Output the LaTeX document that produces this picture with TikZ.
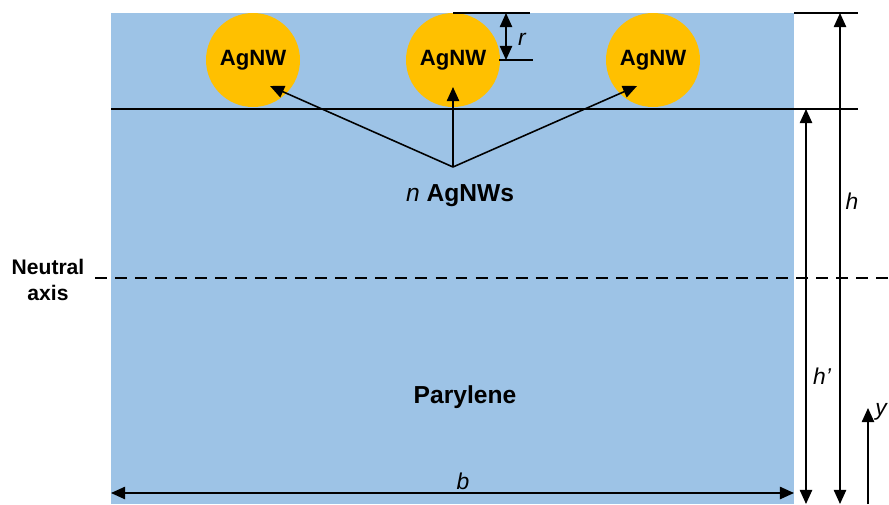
\documentclass[tikz,border=0pt]{standalone}
\usepackage{fontspec}
\setmainfont{Liberation Sans}
\usetikzlibrary{arrows.meta,positioning}
\definecolor{parylene}{HTML}{9DC3E6}
\definecolor{agnw}{HTML}{FFC000}
\begin{document}
\begin{tikzpicture}[x=0.02cm,y=-0.02cm,
    wire/.style={circle,fill=agnw,minimum size=1.88cm,inner sep=0pt,
        font=\fontsize{12.6}{14}\selectfont\bfseries},
    lbl/.style={font=\fontsize{14}{16}\selectfont\bfseries},
    side/.style={font=\fontsize{12}{14.5}\selectfont\bfseries},
    dim/.style={font=\fontsize{13}{15}\selectfont\itshape},
    arr/.style={-{Triangle[length=8pt,width=7pt]},line width=0.9pt},
    dbl/.style={{Triangle[length=8pt,width=7pt]}-{Triangle[length=8pt,width=7pt]},line width=0.9pt},
    ln/.style={line width=0.9pt}]
    \useasboundingbox (0,0) rectangle (889,504);
    % parylene film
    \fill[parylene] (111,13) rectangle (794,504);

    % nanowires
    \node[wire] (w1) at (253,60) {AgNW};
    \node[wire] (w2) at (453,60) {AgNW};
    \node[wire] (w3) at (653,60) {AgNW};

    % layer boundary and neutral axis
    \draw[ln] (111,109) -- (858,109);
    \draw[line width=1.4pt,dash pattern=on 6.8pt off 4.6pt] (95,278) -- (889,278);
    \node[side,align=center] (na) at (48,280) {Neutral\\axis};

    % arrows to the wires
    \coordinate (src) at (453,167);
    \draw[arr] (src) -- ([shift={(17,26)}]w1.center);
    \draw[arr] (src) -- ([shift={(0,27)}]w2.center);
    \draw[arr] (src) -- ([shift={(-16,26)}]w3.center);
    \node[lbl] (cnt) at (460,196) {\textit{\mdseries n} AgNWs};
    \node[lbl] (par) at (465,397) {Parylene};

    % radius
    \coordinate (rt) at (506,13);
    \coordinate (rb) at (506,60);
    \draw[ln] (453,13) -- (530,13);
    \draw[ln] (499,60) -- (533,60);
    \draw[dbl] (rt) -- (rb);
    \node[dim] (r) at (522,39) {r};

    % heights
    \coordinate (ht) at (840,13);
    \coordinate (hb) at (840,504);
    \coordinate (hpt) at (806,109);
    \coordinate (hpb) at (806,504);
    \draw[ln] (794,13) -- (858,13);
    \draw[dbl] (ht) -- (hb);
    \draw[dbl] (hpt) -- (hpb);
    \node[dim] (h) at (852,201) {h};
    \node[dim] (hp) at (822,376) {h’};

    % width
    \coordinate (bl) at (111,493);
    \coordinate (br) at (794,493);
    \draw[dbl] (bl) -- (br);
    \node[dim] (b) at (463,481) {b};

    % y axis
    \coordinate (y0) at (868,504);
    \coordinate (y1) at (868,408);
    \draw[arr] (y0) -- (y1);
    \node[dim] (y) at (881,412) {y};
\end{tikzpicture}
\end{document}
